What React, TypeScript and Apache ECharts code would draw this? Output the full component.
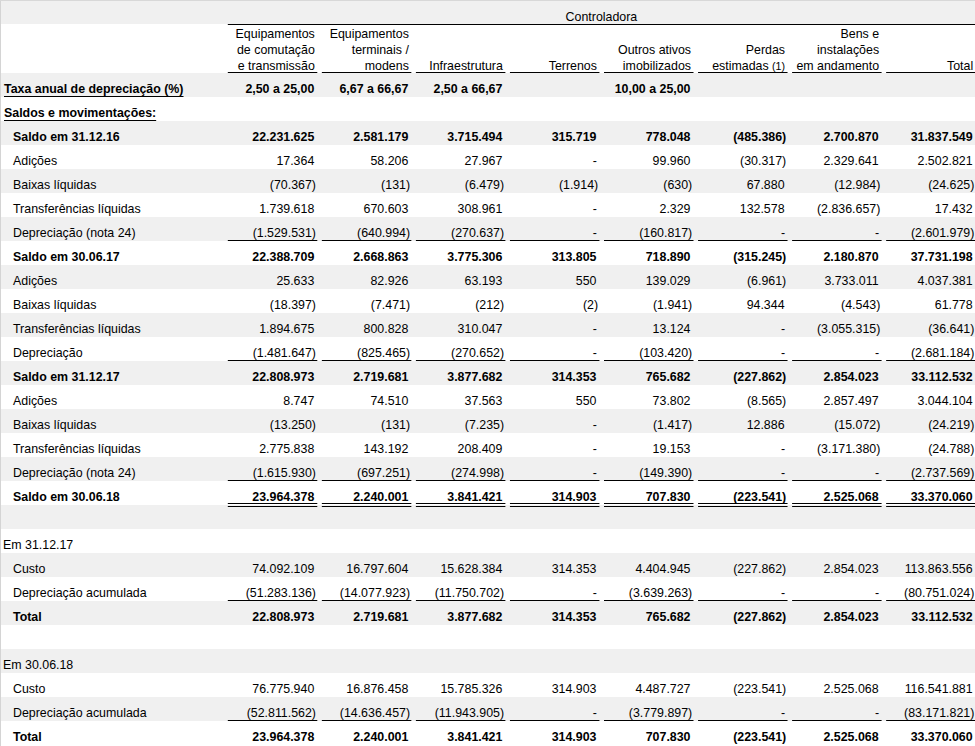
import React, { useEffect, useRef } from "react";
import * as echarts from "echarts";

// ---------------- data ----------------
const groupTitle = "Controladora";

const columnHeaders: string[][] = [
  ["Equipamentos", "de comutação", "e transmissão"],
  ["Equipamentos", "terminais /", "modens"],
  ["Infraestrutura"],
  ["Terrenos"],
  ["Outros ativos", "imobilizados"],
  ["Perdas", "estimadas (1)"],
  ["Bens e", "instalações", "em andamento"],
  ["Total"],
];

const taxaAnual = ["2,50 a 25,00", "6,67 a 66,67", "2,50 a 66,67", "", "10,00 a 25,00", "", "", ""];

const saldo311216 = ["22.231.625", "2.581.179", "3.715.494", "315.719", "778.048", "(485.386)", "2.700.870", "31.837.549"];
const adicoes1S17 = ["17.364", "58.206", "27.967", "-", "99.960", "(30.317)", "2.329.641", "2.502.821"];
const baixas1S17 = ["(70.367)", "(131)", "(6.479)", "(1.914)", "(630)", "67.880", "(12.984)", "(24.625)"];
const transf1S17 = ["1.739.618", "670.603", "308.961", "-", "2.329", "132.578", "(2.836.657)", "17.432"];
const deprec1S17 = ["(1.529.531)", "(640.994)", "(270.637)", "-", "(160.817)", "-", "-", "(2.601.979)"];
const saldo300617 = ["22.388.709", "2.668.863", "3.775.306", "313.805", "718.890", "(315.245)", "2.180.870", "37.731.198"];
const adicoes2S17 = ["25.633", "82.926", "63.193", "550", "139.029", "(6.961)", "3.733.011", "4.037.381"];
const baixas2S17 = ["(18.397)", "(7.471)", "(212)", "(2)", "(1.941)", "94.344", "(4.543)", "61.778"];
const transf2S17 = ["1.894.675", "800.828", "310.047", "-", "13.124", "-", "(3.055.315)", "(36.641)"];
const deprec2S17 = ["(1.481.647)", "(825.465)", "(270.652)", "-", "(103.420)", "-", "-", "(2.681.184)"];
const saldo311217 = ["22.808.973", "2.719.681", "3.877.682", "314.353", "765.682", "(227.862)", "2.854.023", "33.112.532"];
const adicoes1S18 = ["8.747", "74.510", "37.563", "550", "73.802", "(8.565)", "2.857.497", "3.044.104"];
const baixas1S18 = ["(13.250)", "(131)", "(7.235)", "-", "(1.417)", "12.886", "(15.072)", "(24.219)"];
const transf1S18 = ["2.775.838", "143.192", "208.409", "-", "19.153", "-", "(3.171.380)", "(24.788)"];
const deprec1S18 = ["(1.615.930)", "(697.251)", "(274.998)", "-", "(149.390)", "-", "-", "(2.737.569)"];
const saldo300618 = ["23.964.378", "2.240.001", "3.841.421", "314.903", "707.830", "(223.541)", "2.525.068", "33.370.060"];

const custo311217 = ["74.092.109", "16.797.604", "15.628.384", "314.353", "4.404.945", "(227.862)", "2.854.023", "113.863.556"];
const deprAcum311217 = ["(51.283.136)", "(14.077.923)", "(11.750.702)", "-", "(3.639.263)", "-", "-", "(80.751.024)"];
const total311217 = ["22.808.973", "2.719.681", "3.877.682", "314.353", "765.682", "(227.862)", "2.854.023", "33.112.532"];

const custo300618 = ["76.775.940", "16.876.458", "15.785.326", "314.903", "4.487.727", "(223.541)", "2.525.068", "116.541.881"];
const deprAcum300618 = ["(52.811.562)", "(14.636.457)", "(11.943.905)", "-", "(3.779.897)", "-", "-", "(83.171.821)"];
const total300618 = ["23.964.378", "2.240.001", "3.841.421", "314.903", "707.830", "(223.541)", "2.525.068", "33.370.060"];

type Kind = "taxa" | "section" | "saldo" | "item" | "itemLine" | "saldoDouble" | "blank" | "group" | "total";
type Row = { label: string; kind: Kind; values?: string[] };

const rows: Row[] = [
  { label: "Taxa anual de depreciação (%)", kind: "taxa", values: taxaAnual },
  { label: "Saldos e movimentações:", kind: "section" },
  { label: "Saldo em 31.12.16", kind: "saldo", values: saldo311216 },
  { label: "Adições", kind: "item", values: adicoes1S17 },
  { label: "Baixas líquidas", kind: "item", values: baixas1S17 },
  { label: "Transferências líquidas", kind: "item", values: transf1S17 },
  { label: "Depreciação (nota 24)", kind: "itemLine", values: deprec1S17 },
  { label: "Saldo em 30.06.17", kind: "saldo", values: saldo300617 },
  { label: "Adições", kind: "item", values: adicoes2S17 },
  { label: "Baixas líquidas", kind: "item", values: baixas2S17 },
  { label: "Transferências líquidas", kind: "item", values: transf2S17 },
  { label: "Depreciação", kind: "itemLine", values: deprec2S17 },
  { label: "Saldo em 31.12.17", kind: "saldo", values: saldo311217 },
  { label: "Adições", kind: "item", values: adicoes1S18 },
  { label: "Baixas líquidas", kind: "item", values: baixas1S18 },
  { label: "Transferências líquidas", kind: "item", values: transf1S18 },
  { label: "Depreciação (nota 24)", kind: "itemLine", values: deprec1S18 },
  { label: "Saldo em 30.06.18", kind: "saldoDouble", values: saldo300618 },
  { label: "", kind: "blank" },
  { label: "Em 31.12.17", kind: "group" },
  { label: "Custo", kind: "item", values: custo311217 },
  { label: "Depreciação acumulada", kind: "itemLine", values: deprAcum311217 },
  { label: "Total", kind: "total", values: total311217 },
  { label: "", kind: "blank" },
  { label: "Em 30.06.18", kind: "group" },
  { label: "Custo", kind: "item", values: custo300618 },
  { label: "Depreciação acumulada", kind: "itemLine", values: deprAcum300618 },
  { label: "Total", kind: "total", values: total300618 },
];

// ---------------- layout ----------------
const W = 975;
const H = 746;
const FS = 12.4;
const FAMILY = '"Liberation Sans", Arial, Helvetica, sans-serif';
const ROW_H = 24;
const BODY_TOP = 73;
const COL_R0 = 313.8;
const COL_STEP = 94.05;
const GRAY = "#f0f0f0";
const INK = "#000000";

function colRight(i: number) {
  return COL_R0 + COL_STEP * i;
}

function measure(text: string, bold: boolean) {
  const c = document.createElement("canvas").getContext("2d");
  if (!c) return text.length * FS * 0.55;
  c.font = `${bold ? "bold " : ""}${FS}px ${FAMILY}`;
  return c.measureText(text).width;
}

function textEl(text: string, x: number, y: number, align: string, bold: boolean, extra: any = {}) {
  return {
    type: "text",
    silent: true,
    x,
    y,
    style: {
      text,
      fill: INK,
      fontSize: FS,
      fontFamily: FAMILY,
      fontWeight: bold ? "bold" : "normal",
      align,
      verticalAlign: "middle",
      ...extra,
    },
  };
}

function lineEl(x1: number, y1: number, x2: number, y2: number, color = INK) {
  return {
    type: "line",
    silent: true,
    shape: { x1, y1, x2, y2 },
    style: { stroke: color, lineWidth: 1 },
  };
}

function buildElements() {
  const els: any[] = [];
  // backgrounds
  els.push({ type: "rect", silent: true, shape: { x: 0, y: 0, width: W, height: 24 }, style: { fill: GRAY } });
  rows.forEach((_, k) => {
    if (k % 2 === 0) {
      els.push({
        type: "rect",
        silent: true,
        shape: { x: 0, y: BODY_TOP + ROW_H * k, width: W, height: ROW_H },
        style: { fill: GRAY },
      });
    }
  });
  // borders
  els.push(lineEl(0.5, 0, 0.5, H, "#d4d4d4"));
  els.push(lineEl(0, 0.5, W, 0.5, "#d8d8d8"));

  // group title
  const left = colRight(0) - 86;
  els.push(textEl(groupTitle, (left + W) / 2, 17, "center", false));
  els.push(lineEl(left, 24.5, W, 24.5));

  // column headers
  columnHeaders.forEach((lines, i) => {
    const r = colRight(i) + 1;
    const n = lines.length;
    lines.forEach((t, j) => {
      const y = 65.5 - 16 * (n - 1 - j);
      if (t.endsWith("(1)")) {
        const main = t.slice(0, -3);
        els.push(
          textEl(`{a|${main}}{b|(1)}`, r, y, "right", false, {
            rich: {
              a: { fontSize: FS, fontFamily: FAMILY, fill: INK },
              b: { fontSize: FS - 1.8, fontFamily: FAMILY, fill: INK },
            },
          })
        );
      } else {
        els.push(textEl(t, r, y, "right", false));
      }
    });
    els.push(lineEl(colRight(i) - 86, 72.5, colRight(i) + 3.5, 72.5));
  });

  // body rows
  rows.forEach((row, k) => {
    const top = BODY_TOP + ROW_H * k;
    const yc = top + 16;
    const bold = row.kind === "taxa" || row.kind === "section" || row.kind === "saldo" || row.kind === "saldoDouble" || row.kind === "total";
    const indent = row.kind === "taxa" || row.kind === "section" ? 4 : row.kind === "group" ? 3 : 13;
    if (row.label) {
      els.push(textEl(row.label, indent, yc, "left", bold));
      if (row.kind === "taxa" || row.kind === "section") {
        const w = measure(row.label, bold);
        els.push(lineEl(indent, top + 23.5, indent + w, top + 23.5));
      }
    }
    if (row.values) {
      row.values.forEach((v, i) => {
        if (!v) return;
        const r = colRight(i);
        const x = v.startsWith("(") ? r + 2.2 : v === "-" ? r + 1 : r + 0.5;
        els.push(textEl(v, x, yc, "right", bold));
      });
    }
    if (row.kind === "itemLine" || row.kind === "saldoDouble") {
      for (let i = 0; i < 8; i++) {
        const x1 = colRight(i) - 86;
        const x2 = colRight(i) + 3.5;
        if (row.kind === "itemLine") {
          els.push(lineEl(x1, top + 23.5, x2, top + 23.5));
        } else {
          els.push(lineEl(x1, top + 22.5, x2, top + 22.5));
          els.push(lineEl(x1, top + 25.5, x2, top + 25.5));
        }
      }
    }
  });
  return els;
}

export default function App() {
  const ref = useRef<HTMLDivElement>(null);
  useEffect(() => {
    if (!ref.current) return;
    const chart = echarts.init(ref.current, null, { renderer: "svg", width: W, height: H });
    chart.setOption({
      animation: false,
      backgroundColor: "#ffffff",
      graphic: { elements: buildElements() },
    });
    return () => chart.dispose();
  }, []);
  return (
    <div
      ref={ref}
      style={{ position: "fixed", left: 0, top: 0, width: W, height: H, background: "#fff" }}
    />
  );
}
